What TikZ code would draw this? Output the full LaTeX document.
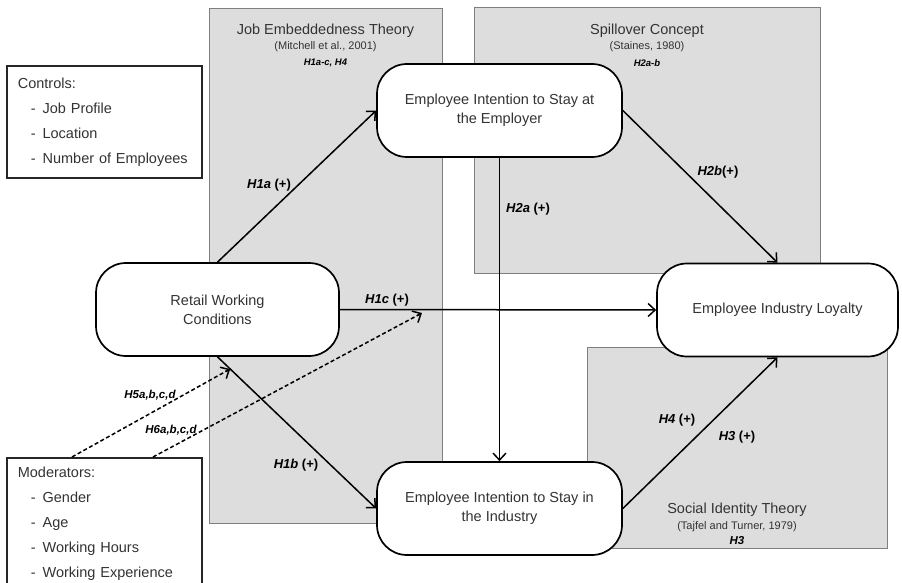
\documentclass[tikz,border=0pt]{standalone}
\usepackage{fontspec}
\setmainfont{Liberation Sans}
\usetikzlibrary{arrows.meta,calc}
\definecolor{boxgray}{HTML}{DDDDDD}
\definecolor{boxedge}{HTML}{7F7F7F}
\definecolor{txt}{HTML}{333333}
\newcommand{\mainfs}{\fontsize{14.5}{19}\selectfont}
\newcommand{\citefs}{\fontsize{11}{13}\selectfont}
\begin{document}
\begin{tikzpicture}[x=1pt,y=-1pt,
  graybox/.style={draw=boxedge, fill=boxgray, line width=0.9pt, anchor=north west, inner sep=0pt},
  concept/.style={draw=black, fill=white, line width=1.7pt, rounded corners=30pt,
    minimum height=93pt, align=center, text=txt, font=\mainfs, inner sep=0pt},
  listbox/.style={draw=black!85, fill=white, line width=1.6pt, align=left, text=txt,
    font=\fontsize{14.5}{25}\selectfont, inner xsep=11pt, text width=173pt},
  title/.style={text=txt, font=\mainfs, inner sep=0pt},
  cite/.style={text=txt, font=\citefs, inner sep=0pt},
  hyref/.style={font=\fontsize{9.5}{11}\selectfont\bfseries\itshape, inner sep=0pt},
  lab/.style={font=\fontsize{13}{15}\selectfont\bfseries, inner sep=0pt},
  mlab/.style={font=\fontsize{11.5}{13}\selectfont\bfseries\itshape, inner sep=0pt},
  arr/.style={line width=1.5pt, -{Straight Barb[length=7pt,width=13pt]}},
  dline/.style={line width=1.5pt, dash pattern=on 4pt off 2.5pt}
]
\useasboundingbox (0,0) rectangle (902,583);
\begin{scope}
\clip (0,0) rectangle (902,583);

% theory boxes
\node[graybox, minimum width=233pt, minimum height=515pt] (jet) at (209,8) {};
\node[graybox, minimum width=346pt, minimum height=266pt] (spc) at (474,7) {};
\node[graybox, minimum width=300pt, minimum height=201pt] (sit) at (587,347) {};

\node[title] (jett) at (325.5,31) {Job Embeddedness Theory};
\node[cite] (jetc) at (325.5,47) {(Mitchell et al., 2001)};
\node[hyref] (jeth) at (325.5,63) {H1a-c, H4};

\node[title] (spct) at (647,31) {Spillover Concept};
\node[cite] (spcc) at (647,47) {(Staines, 1980)};
\node[hyref] (spch) at (647,63) {H2a-b};

\node[title] (sitt) at (737,510) {Social Identity Theory};
\node[cite] (sitc) at (737,527) {(Tajfel and Turner, 1979)};
\node[hyref, font=\fontsize{11.5}{13}\selectfont\bfseries\itshape] (sith) at (737,541) {H3};

% concept nodes
\node[concept, minimum width=243pt] (rwc) at (217.5,309.5) {Retail Working\\Conditions};
\node[concept, minimum width=245pt] (emp) at (499.5,110.5) {Employee Intention to Stay at\\the Employer};
\node[concept, minimum width=245pt] (ind) at (499.5,508.5) {Employee Intention to Stay in\\the Industry};
\node[concept, minimum width=241pt] (loy) at (777.5,310) {Employee Industry Loyalty};

% side boxes
\node[listbox, minimum height=112pt, anchor=north west] (ctl) at (6,65)
  {Controls:\\\hspace*{13pt}-\hspace{7pt}Job Profile\\\hspace*{13pt}-\hspace{7pt}Location\\\hspace*{13pt}-\hspace{7pt}Number of Employees};
\node[listbox, minimum height=131pt, anchor=north west] (mod) at (6,457)
  {Moderators:\\\hspace*{13pt}-\hspace{7pt}Gender\\\hspace*{13pt}-\hspace{7pt}Age\\\hspace*{13pt}-\hspace{7pt}Working Hours\\\hspace*{13pt}-\hspace{7pt}Working Experience};

% connectors
\draw[arr] (rwc.north) -- (emp.west);
\draw[arr] (rwc.south) -- coordinate[pos=0.08] (h5end) (ind.west);
\draw[arr] (rwc.east) -- (loy.west);
\draw[arr] (emp.south) -- (ind.north);
\draw[arr] (emp.east) -- (loy.north);
\draw[arr] (ind.east) -- (loy.south);

\coordinate (h5start) at ($(mod.north west)+(66,0)$);
\coordinate (h6start) at ($(mod.north west)+(147,0)$);
\coordinate (h6end) at (422,313);
\draw[dline] (h5start) -- (h5end);
\draw[arr] ($(h5end)!5pt!(h5start)$) -- (h5end);
\draw[dline] (h6start) -- (h6end);
\draw[arr] ($(h6end)!5pt!(h6start)$) -- (h6end);

% labels
\node[lab] (l1a) at (269,185) {\textit{H1a} (+)};
\node[lab] (l1b) at (296,465) {\textit{H1b} (+)};
\node[lab] (l1c) at (387,300) {\textit{H1c} (+)};
\node[lab] (l2a) at (528,209) {\textit{H2a} (+)};
\node[lab] (l2b) at (718,172) {\textit{H2b}(+)};
\node[lab] (l4) at (677,420) {\textit{H4} (+)};
\node[lab] (l3) at (737,437) {\textit{H3} (+)};
\node[mlab] (l5) at (150,395) {H5a,b,c,d};
\node[mlab] (l6) at (171,430) {H6a,b,c,d};
\end{scope}
\end{tikzpicture}
\end{document}
